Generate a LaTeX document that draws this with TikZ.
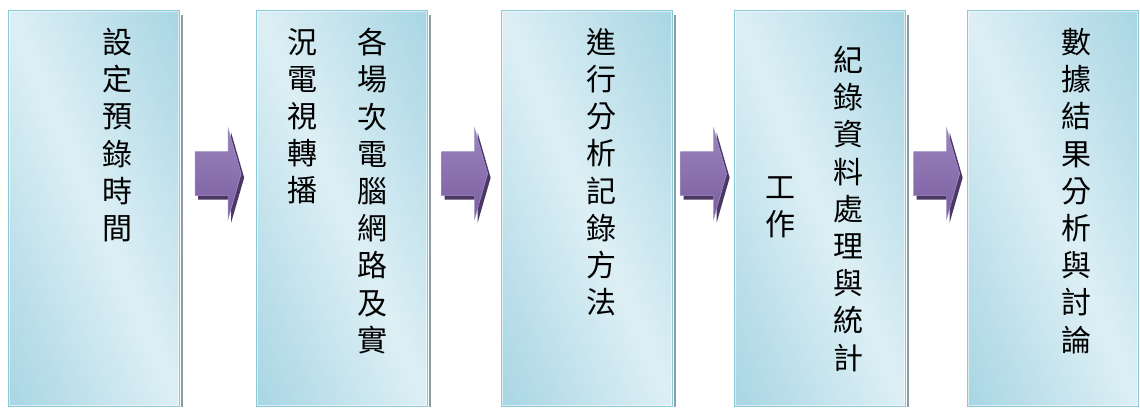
\documentclass[tikz,border=0pt]{standalone}
\usepackage{fontspec}
\newfontfamily\cjk{Noto Sans CJK TC}
\usetikzlibrary{calc}
\definecolor{boxdark}{HTML}{8FCADB}
\definecolor{boxlight}{HTML}{DDEFF5}
\definecolor{boxline}{HTML}{8BC8D8}
\definecolor{arrtop}{HTML}{9A84BE}
\definecolor{arrbot}{HTML}{7B5EA0}
\definecolor{arrline}{HTML}{A08CC4}
\definecolor{arrshadow}{HTML}{4A3863}
\definecolor{shadowgray}{HTML}{8A9EA6}
\tikzset{
  boxfill/.style={top color=boxdark, bottom color=boxdark, middle color=boxlight, shading angle=-66.6},
  stepbox/.style={draw=boxline, line width=1.3pt, minimum width=171pt, minimum height=396pt, anchor=north west, inner sep=0pt,
    path picture={\shade[boxfill] ($(path picture bounding box.center)+(-230pt,-230pt)$) rectangle +(460pt,460pt);}},
  vtext/.style={font=\cjk\fontsize{30}{37.2}\selectfont, align=center, anchor=north, inner sep=0pt, text=black},
  arrowbody/.style={top color=arrtop, bottom color=arrbot, draw=arrline, line width=0.6pt},
  arrowshade/.style={fill=arrshadow},
  boxshadow/.style={draw=shadowgray, line width=2pt},
  boxglow/.style={draw=white, draw opacity=.55, line width=.8pt}
}
\begin{document}
\begin{tikzpicture}[x=1pt,y=-1pt]
\useasboundingbox (0,0) rectangle (1140,407);
% boxes
\node[stepbox] (b1) at (8,10) {};
\node[stepbox] (b2) at (256,10) {};
\node[stepbox] (b3) at (501,10) {};
\node[stepbox] (b4) at (734,10) {};
\node[stepbox] (b5) at (967,10) {};
\foreach \b in {b1,b2,b3,b4,b5}{
  \draw[boxshadow] ([xshift=1.8pt,yshift=-5pt]\b.north east) -- ([xshift=1.8pt]\b.south east);
  \draw[boxglow] ([shift={(1.6pt,-1.6pt)}]\b.north west) rectangle ([shift={(-1.6pt,1.6pt)}]\b.south east);
}
% texts
\node[vtext] (t1) at (117,28) {設\\定\\預\\錄\\時\\間};
\node[vtext] (t2a) at (372,28) {各\\場\\次\\電\\腦\\網\\路\\及\\實};
\node[vtext] (t2b) at (302,28) {況\\電\\視\\轉\\播};
\node[vtext] (t3) at (601,28) {進\\行\\分\\析\\記\\錄\\方\\法};
\node[vtext] (t4a) at (848,46) {紀\\錄\\資\\料\\處\\理\\與\\統\\計};
\node[vtext] (t4b) at (780,176) {工\\作};
\node[vtext] (t5) at (1076,28) {數\\據\\結\\果\\分\\析\\與\\討\\論};
% arrows
\foreach \i/\j in {1/2,2/3,3/4,4/5}{
  \coordinate (a\i) at ($(b\i.east)!.5!(b\j.west)+(0,-35)$);
  \begin{scope}[shift={(a\i)}]
    \fill[arrowshade] (-20,-18) -- (13,-18) -- (13,-41) -- (26,4) -- (13,49) -- (13,26) -- (-20,26) -- cycle;
    \draw[arrowbody] (-23,-22) -- (10,-22) -- (10,-45) -- (23,0) -- (10,45) -- (10,22) -- (-23,22) -- cycle;
  \end{scope}
}
\end{tikzpicture}
\end{document}
